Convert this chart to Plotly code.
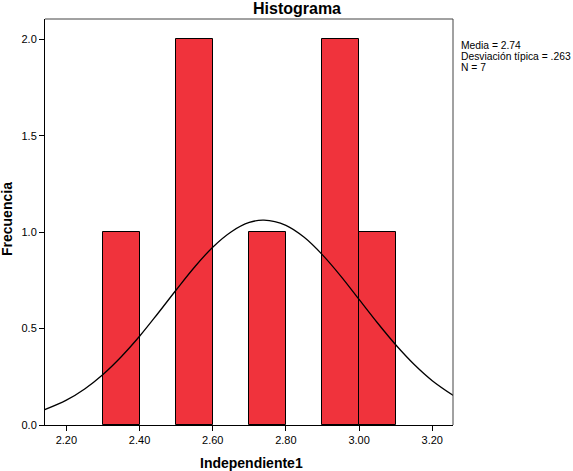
import plotly.graph_objects as go

# histogram bins (centres, width 0.1) and counts
bin_centers = [2.35, 2.55, 2.75, 2.95, 3.05]
counts = [1, 2, 1, 2, 1]

# fitted normal curve
curve_x = [2.14, 2.20, 2.25, 2.30, 2.35, 2.40, 2.45, 2.50, 2.55, 2.60, 2.65, 2.70, 2.74,
           2.80, 2.85, 2.90, 2.95, 3.00, 3.05, 3.10, 3.15, 3.20, 3.26]
curve_y = [0.079, 0.129, 0.187, 0.262, 0.354, 0.460, 0.578, 0.700, 0.818, 0.922, 1.001, 1.050, 1.062,
           1.035, 0.973, 0.882, 0.772, 0.651, 0.530, 0.416, 0.315, 0.230, 0.150]

x_ticks = [2.2, 2.4, 2.6, 2.8, 3.0, 3.2]
y_ticks = [0.0, 0.5, 1.0, 1.5, 2.0]
stats_lines = ["Media = 2.74", "Desviación típica = .263", "N = 7"]

FONT = "Liberation Sans, Arial, sans-serif"

fig = go.Figure()
fig.add_trace(go.Bar(x=bin_centers, y=counts, width=0.1,
                     marker=dict(color="#F0333C", line=dict(color="black", width=1)),
                     hoverinfo="skip"))
fig.add_trace(go.Scatter(x=curve_x, y=curve_y, mode="lines",
                         line=dict(color="black", width=1.3, shape="spline"),
                         hoverinfo="skip"))

fig.update_layout(
    width=573, height=471,
    margin=dict(l=45, r=120, t=19, b=46),
    paper_bgcolor="white", plot_bgcolor="white",
    showlegend=False,
    font=dict(family=FONT, color="black", size=11),
    bargap=0,
    title=dict(text="<b>Histograma</b>", x=(297 / 573), xanchor="center",
               y=1 - 8 / 471, yanchor="middle", yref="container",
               font=dict(size=16, family=FONT, color="black")),
    xaxis=dict(range=[2.1416, 3.2567], tickvals=x_ticks, tickformat=".2f",
               ticks="outside", ticklen=5, tickcolor="black", showgrid=False,
               zeroline=False, showline=True, linecolor="black", linewidth=1,
               tickfont=dict(size=11)),
    yaxis=dict(range=[0, 2.105], tickvals=y_ticks, tickformat=".1f",
               ticks="outside", ticklen=5, tickcolor="black", showgrid=False,
               zeroline=False, showline=True, linecolor="black", linewidth=1,
               tickfont=dict(size=11)),
)

# top and right frame lines
fig.add_shape(type="line", xref="paper", yref="paper", x0=0, x1=1, y0=1, y1=1,
              line=dict(color="#444444", width=1))
fig.add_shape(type="line", xref="paper", yref="paper", x0=1, x1=1, y0=0, y1=1,
              line=dict(color="#444444", width=1))

# axis titles
fig.add_annotation(text="<b>Independiente1</b>", xref="paper", yref="paper",
                   x=(251 - 45) / 408, y=-(463 - 425) / 406, showarrow=False,
                   xanchor="center", yanchor="middle", font=dict(size=14, family=FONT))
fig.add_annotation(text="<b>Frecuencia</b>", xref="paper", yref="paper",
                   x=-(45 - 7) / 408, y=(425 - 219) / 406, showarrow=False, textangle=-90,
                   xanchor="center", yanchor="middle", font=dict(size=14, family=FONT))

# statistics box
for i, line in enumerate(stats_lines):
    fig.add_annotation(text=line, xref="paper", yref="paper",
                       x=(459 - 45) / 408, y=(425 - (46 + 10.6 * i)) / 406,
                       showarrow=False, xanchor="left", yanchor="middle",
                       font=dict(size=10.3, family=FONT))

fig.write_html("out.html", config={"displayModeBar": False},
               post_script="document.body.style.margin='0';")
